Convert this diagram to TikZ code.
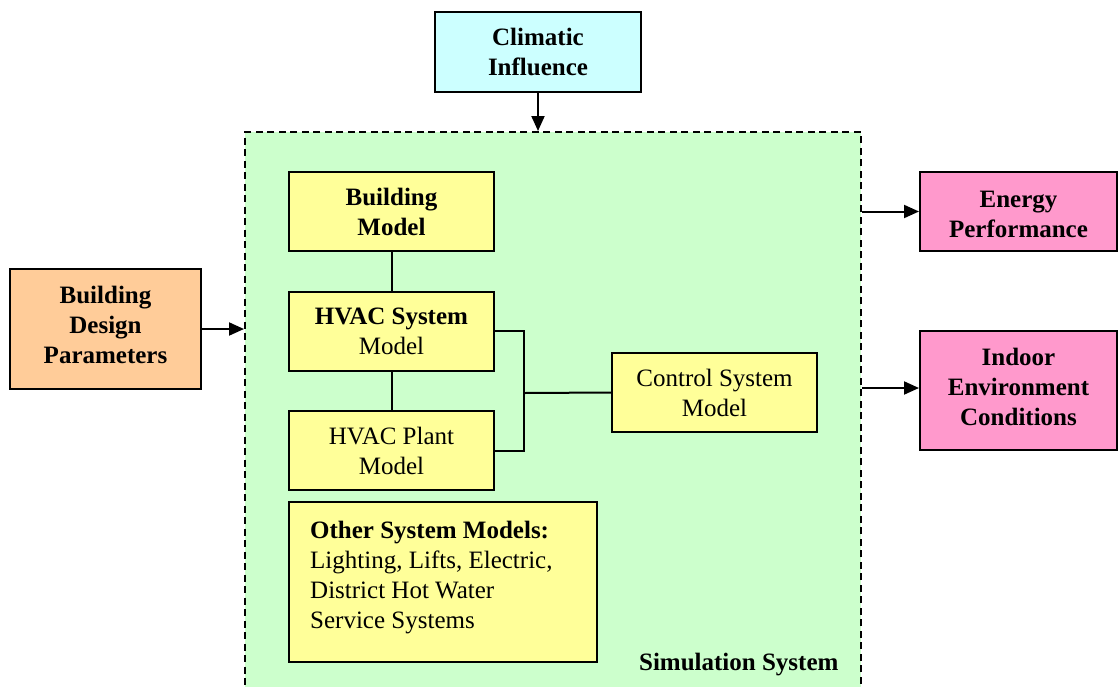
\documentclass[tikz,border=0pt]{standalone}
\usepackage{fontspec}
\setmainfont{Liberation Serif}
\usetikzlibrary{arrows.meta}

\definecolor{simgreen}{HTML}{CCFFCC}
\definecolor{modelyellow}{HTML}{FFFF99}
\definecolor{climcyan}{HTML}{CCFFFF}
\definecolor{designorange}{HTML}{FFCC99}
\definecolor{outpink}{HTML}{FF99CC}

% centred stack of lines, shifted by #1 without changing its size
\newcommand{\liftedlines}[2]{\raisebox{#1}[\height][\depth]{\begin{tabular}{@{}c@{}}#2\end{tabular}}}

\tikzset{
  box/.style={draw=black, line width=2pt, inner sep=0pt, align=center,
    font=\fontsize{25}{30}\selectfont},
  model/.style={box, fill=modelyellow, minimum width=205pt, minimum height=79pt},
  link/.style={draw=black, line width=2pt},
  arr/.style={link, -{Triangle[length=15pt,width=13pt]}},
  simframe/.style={draw=black, line width=2pt, dash pattern=on 7pt off 4.5pt,
    fill=simgreen, inner sep=0pt}
}

\begin{document}
\begin{tikzpicture}[x=1pt, y=-1pt]
  \useasboundingbox (0,0) rectangle (1118,686);
  \clip (0,0) rectangle (1118,686);

  % simulation system frame (runs past the lower edge)
  \node[simframe, minimum width=616pt, minimum height=568pt] (sim) at (553,416) {};
  \node[anchor=east, font=\fontsize{25}{30}\selectfont\bfseries] (simlabel) at (842,665) {Simulation System};

  % inputs and outputs
  \node[box, fill=climcyan, minimum width=206pt, minimum height=80pt, font=\fontsize{25}{30}\selectfont\bfseries]
    (climate) at (538,51.5) {Climatic\\Influence};
  \node[box, fill=designorange, minimum width=191pt, minimum height=120pt, font=\fontsize{25}{30}\selectfont\bfseries]
    (design) at (105.5,329) {\liftedlines{1.5pt}{Building\\Design\\Parameters}};
  \node[box, fill=outpink, minimum width=197pt, minimum height=79pt, font=\fontsize{25}{30}\selectfont\bfseries]
    (energy) at (1018.5,211.5) {\liftedlines{-5pt}{Energy\\Performance}};
  \node[box, fill=outpink, minimum width=197pt, minimum height=119pt, font=\fontsize{25}{30}\selectfont\bfseries]
    (indoor) at (1018.5,390.5) {\liftedlines{1pt}{Indoor\\Environment\\Conditions}};

  % component models
  \node[model, font=\fontsize{25}{30}\selectfont\bfseries] (bldg) at (391.5,211.5) {Building\\Model};
  \node[model] (hvacsys) at (391.5,331) {\textbf{HVAC System}\\Model};
  \node[model] (plant) at (391.5,450.5) {HVAC Plant\\Model};
  \node[model] (ctrl) at (714.5,392.5) {Control System\\Model};

  \node[box, fill=modelyellow, minimum width=308pt, minimum height=160pt] (other) at (443,582) {};
  \node[anchor=north west, align=left, inner sep=0pt, font=\fontsize{25}{30}\selectfont]
    (othertext) at (310,521) {\textbf{Other System Models:}\\Lighting, Lifts, Electric,\\District Hot Water\\Service Systems};

  % links between models
  \coordinate (jx) at (524,393);
  \draw[link] (bldg.south) -- (hvacsys.north);
  \draw[link] (hvacsys.south) -- (plant.north);
  \draw[link] (hvacsys.east) -| (jx) |- (plant.east);
  \draw[link] (jx) -- (ctrl.west);

  % flows into and out of the simulation
  \draw[arr] (climate.south) -- (climate.south |- sim.north);
  \draw[arr] (design.east) -- (design.east -| sim.west);
  \draw[arr] (energy.west -| sim.east) -- (energy.west);
  \draw[arr] ([yshift=2.5pt]indoor.west -| sim.east) -- ([yshift=2.5pt]indoor.west);
\end{tikzpicture}
\end{document}
